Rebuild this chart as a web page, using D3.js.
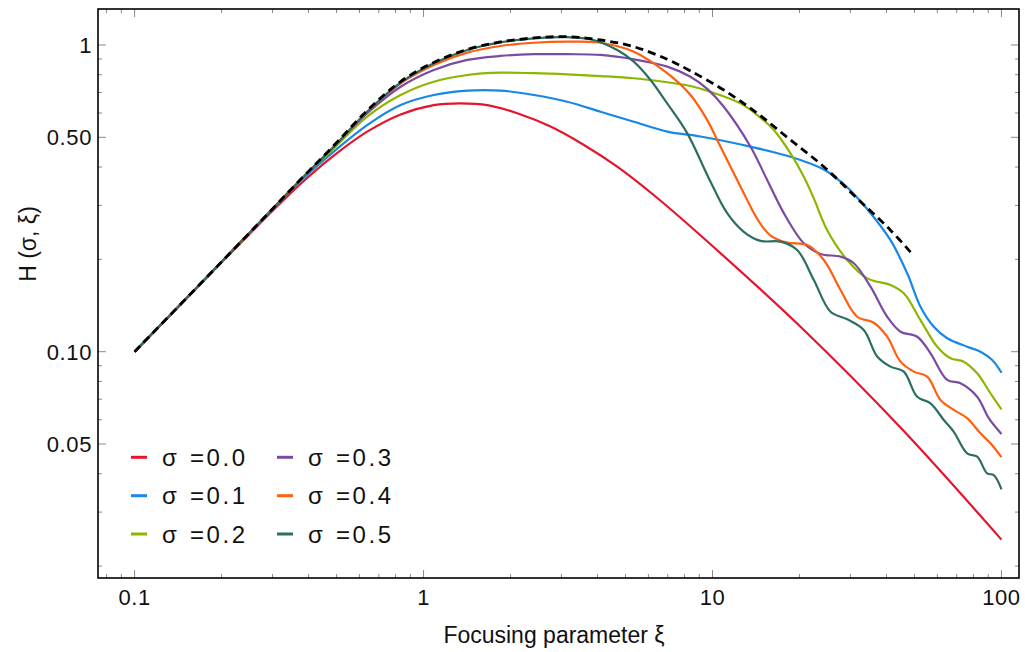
<!DOCTYPE html>
<html>
<head>
<meta charset="utf-8">
<script src="https://cdn.jsdelivr.net/npm/d3@7"></script>
<style>
  html, body { margin: 0; padding: 0; background: #fff; }
  svg { display: block; font-family: "Liberation Sans", Arial, sans-serif; }
</style>
</head>
<body>
<svg id="chart" width="1025" height="652"></svg>
<script>
// ---- data ----
const sigmaLabels = ["σ =0.0", "σ =0.1", "σ =0.2", "σ =0.3", "σ =0.4", "σ =0.5"];

const xi_s0 = [0.1, 0.169, 0.252, 0.375, 0.489, 0.638, 0.833, 1.085, 1.343, 1.662, 2.11, 2.751, 3.59, 4.68, 6.44, 9.84, 20.16, 44.73, 100];
const H_s0  = [0.1, 0.166, 0.244, 0.352, 0.4356, 0.5216, 0.5938, 0.637, 0.645, 0.637, 0.599, 0.542, 0.472, 0.401, 0.317, 0.224, 0.1206, 0.0566, 0.0244];

const xi_s1 = [0.1, 0.169, 0.252, 0.375, 0.489, 0.638, 0.833, 1.085, 1.417, 1.847, 2.408, 3.142, 4.098, 5.342, 6.97, 9.09, 13.54, 18.62, 24.28, 27.73, 30.83, 34.3, 41.3, 47.18, 52.45, 58.32, 64.89, 76.08, 84.6, 92.9, 100];
const H_s1  = [0.1, 0.1666, 0.246, 0.36, 0.449, 0.548, 0.637, 0.687, 0.71, 0.71, 0.687, 0.653, 0.606, 0.562, 0.522, 0.503, 0.466, 0.432, 0.3926, 0.3589, 0.3267, 0.292, 0.231, 0.1801, 0.1402, 0.1206, 0.1106, 0.1038, 0.1, 0.0939, 0.0854];

const xi_s2 = [0.1, 0.169, 0.252, 0.375, 0.489, 0.638, 0.833, 1.085, 1.417, 1.847, 2.408, 3.142, 4.098, 5.342, 6.97, 8.39, 9.84, 12.5, 14.28, 16.3, 18.62, 20.7, 22.42, 24.94, 29.25, 34.3, 41.3, 45.92, 52.45, 59.93, 66.61, 74.04, 82.4, 91.6, 100];
const H_s2  = [0.1, 0.1666, 0.246, 0.363, 0.46, 0.584, 0.687, 0.759, 0.798, 0.812, 0.809, 0.802, 0.792, 0.779, 0.756, 0.735, 0.704, 0.645, 0.591, 0.528, 0.443, 0.372, 0.316, 0.249, 0.1991, 0.1734, 0.165, 0.155, 0.1268, 0.1038, 0.0952, 0.0928, 0.085, 0.0732, 0.0649];

const xi_s3 = [0.1, 0.169, 0.252, 0.375, 0.489, 0.638, 0.833, 1.085, 1.417, 1.847, 2.408, 3.142, 4.098, 5.342, 6.97, 8.39, 9.59, 10.94, 13.54, 15.46, 17.65, 20.7, 23.65, 27.73, 30.83, 35.22, 40.23, 44.73, 51.09, 56.81, 64.89, 72.13, 82.4, 90.4, 100];
const H_s3  = [0.1, 0.1666, 0.246, 0.363, 0.466, 0.599, 0.731, 0.829, 0.894, 0.921, 0.933, 0.933, 0.928, 0.898, 0.85, 0.788, 0.719, 0.629, 0.466, 0.363, 0.283, 0.2257, 0.2083, 0.2041, 0.1942, 0.1629, 0.13, 0.1162, 0.1119, 0.0988, 0.0809, 0.0789, 0.0713, 0.0607, 0.0539];

const xi_s4 = [0.1, 0.169, 0.252, 0.375, 0.489, 0.638, 0.833, 1.085, 1.417, 1.847, 2.408, 3.142, 4.098, 5.342, 6.97, 8.39, 9.59, 10.38, 11.54, 12.17, 13.19, 13.9, 14.66, 15.88, 18.13, 21.27, 24.28, 27.73, 31.67, 36.15, 40.23, 44.73, 49.72, 55.34, 61.52, 68.39, 76.08, 84.6, 91.6, 100];
const H_s4  = [0.1, 0.1666, 0.246, 0.363, 0.466, 0.606, 0.75, 0.861, 0.944, 0.9925, 1.017, 1.025, 1.017, 0.951, 0.809, 0.687, 0.569, 0.49, 0.401, 0.363, 0.312, 0.2833, 0.2609, 0.2392, 0.2267, 0.2228, 0.1991, 0.1589, 0.13, 0.1243, 0.1119, 0.0928, 0.0861, 0.0829, 0.0696, 0.0646, 0.0607, 0.0542, 0.0503, 0.0453];

const xi_s5 = [0.1, 0.169, 0.252, 0.375, 0.489, 0.638, 0.833, 1.085, 1.417, 1.847, 2.408, 3.142, 3.784, 4.68, 5.342, 6.1, 6.97, 8.18, 9.71, 11.24, 12.83, 14.66, 17.19, 19.64, 22.42, 25.61, 29.25, 33.38, 37.15, 41.3, 45.92, 51.09, 56.81, 63.15, 68.39, 76.08, 82.4, 89.2, 94.1, 100];
const H_s5  = [0.1, 0.1666, 0.246, 0.363, 0.466, 0.606, 0.754, 0.872, 0.963, 1.02, 1.051, 1.06, 1.044, 0.963, 0.882, 0.769, 0.645, 0.515, 0.368, 0.283, 0.246, 0.2297, 0.2284, 0.2145, 0.1713, 0.135, 0.1275, 0.1177, 0.0965, 0.0894, 0.0861, 0.0713, 0.0679, 0.0599, 0.0548, 0.0466, 0.0455, 0.0401, 0.0396, 0.0356];

// optimal-focusing envelope (dashed)
const xi_opt = [0.1, 0.169, 0.252, 0.375, 0.489, 0.638, 0.833, 1.085, 1.417, 1.847, 2.408, 3.142, 4.098, 5.342, 6.97, 8.39, 10.94, 14.28, 18.62, 24.28, 31.67, 41.3, 49.09];
const H_opt  = [0.1, 0.1666, 0.246, 0.364, 0.47, 0.611, 0.76, 0.877, 0.967, 1.023, 1.054, 1.064, 1.038, 0.987, 0.898, 0.823, 0.713, 0.599, 0.49, 0.401, 0.316, 0.249, 0.2083];

const xTickMajor = [0.1, 1, 10, 100];
const xTickMajorLabels = ["0.1", "1", "10", "100"];
const xTickMinor = [0.08, 0.09, 0.2, 0.3, 0.4, 0.5, 0.6, 0.7, 0.8, 0.9, 2, 3, 4, 5, 6, 7, 8, 9, 20, 30, 40, 50, 60, 70, 80, 90];
const yTickMajor = [1, 0.5, 0.1, 0.05];
const yTickMajorLabels = ["1", "0.50", "0.10", "0.05"];
const yTickMinor = [0.02, 0.03, 0.04, 0.06, 0.07, 0.08, 0.09, 0.2, 0.3, 0.4, 0.6, 0.7, 0.8, 0.9];

// ---- styles / layout ----
const colors = ["#e5142b", "#1787e8", "#8db600", "#7a4ba0", "#ff5f0f", "#2c6e63"];
const seriesXi = [xi_s0, xi_s1, xi_s2, xi_s3, xi_s4, xi_s5];
const seriesH = [H_s0, H_s1, H_s2, H_s3, H_s4, H_s5];

const L = 98, R = 1019, T = 9, B = 578;
const x = d3.scaleLog().domain([0.0747, 115.0]).range([L, R]);
const y = d3.scaleLog().domain([0.01829, 1.310]).range([B, T]);

const svg = d3.select("#chart");

const line = d3.line()
  .x(d => x(d[0]))
  .y(d => y(d[1]))
  .curve(d3.curveCatmullRom.alpha(0.5));

const plot = svg.append("g");
seriesXi.forEach((xs, i) => {
  const pts = xs.map((v, k) => [v, seriesH[i][k]]);
  plot.append("path")
    .attr("d", line(pts))
    .attr("fill", "none")
    .attr("stroke", colors[i])
    .attr("stroke-width", 2.2)
    .attr("stroke-linejoin", "round");
});
plot.append("path")
  .attr("d", line(xi_opt.map((v, k) => [v, H_opt[k]])))
  .attr("fill", "none")
  .attr("stroke", "#000")
  .attr("stroke-width", 2.8)
  .attr("stroke-dasharray", "8,5");

// ---- ticks (inward, on all four sides) ----
const tickG = svg.append("g").attr("stroke", "#8a8a8a").attr("stroke-width", 1);
function xt(vals, len) {
  vals.forEach(v => {
    const px = x(v);
    tickG.append("line").attr("x1", px).attr("x2", px).attr("y1", B).attr("y2", B - len);
    tickG.append("line").attr("x1", px).attr("x2", px).attr("y1", T).attr("y2", T + len);
  });
}
function yt(vals, len) {
  vals.forEach(v => {
    const py = y(v);
    tickG.append("line").attr("y1", py).attr("y2", py).attr("x1", L).attr("x2", L + len);
    tickG.append("line").attr("y1", py).attr("y2", py).attr("x1", R).attr("x2", R - len);
  });
}
xt(xTickMajor, 8); xt(xTickMinor, 4);
yt(yTickMajor, 8); yt(yTickMinor, 4);

// frame
svg.append("rect")
  .attr("x", L).attr("y", T).attr("width", R - L).attr("height", B - T)
  .attr("fill", "none").attr("stroke", "#000").attr("stroke-width", 1.6);

// tick labels
svg.append("g").selectAll("text").data(xTickMajor).join("text")
  .attr("x", d => x(d)).attr("y", 605)
  .attr("text-anchor", "middle")
  .attr("font-size", 22).attr("letter-spacing", "0.6px")
  .attr("fill", "#111")
  .text((d, i) => xTickMajorLabels[i]);

svg.append("g").selectAll("text").data(yTickMajor).join("text")
  .attr("x", 92).attr("y", d => y(d))
  .attr("dy", "0.36em")
  .attr("text-anchor", "end")
  .attr("font-size", 22).attr("letter-spacing", "0.6px")
  .attr("fill", "#111")
  .text((d, i) => yTickMajorLabels[i]);

// axis titles
svg.append("text")
  .attr("x", 554).attr("y", 643)
  .attr("text-anchor", "middle")
  .attr("font-size", 23).attr("fill", "#111")
  .text("Focusing parameter ξ");

svg.append("text")
  .attr("transform", "translate(36,244) rotate(-90)")
  .attr("text-anchor", "middle")
  .attr("font-size", 23).attr("fill", "#111")
  .text("H (σ, ξ)");

// legend
const legendCols = [131, 277];
const legendRows = [457.3, 495.7, 534];
const leg = svg.append("g");
sigmaLabels.forEach((lab, i) => {
  const cx = legendCols[Math.floor(i / 3)];
  const cy = legendRows[i % 3];
  leg.append("line")
    .attr("x1", cx).attr("x2", cx + 16).attr("y1", cy).attr("y2", cy)
    .attr("stroke", colors[i]).attr("stroke-width", 3);
  const t = leg.append("text")
    .attr("x", cx + 31).attr("y", cy).attr("dy", "0.36em")
    .attr("font-size", 24).attr("fill", "#111");
  const parts = lab.split(" ");
  t.append("tspan").text(parts[0]);
  t.append("tspan").attr("x", cx + 59).attr("letter-spacing", "2.6px").text(parts[1]);
});
</script>
</body>
</html>
